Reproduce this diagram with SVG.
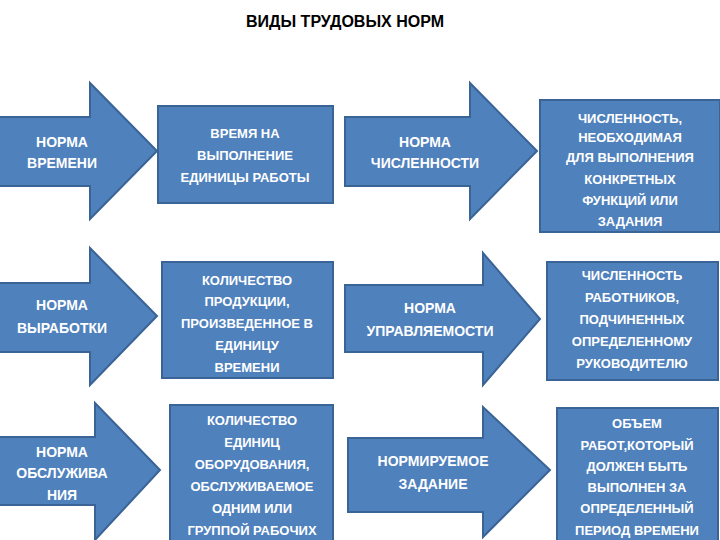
<svg xmlns="http://www.w3.org/2000/svg" width="720" height="540" viewBox="0 0 720 540">
<style>
.s{fill:#4f81bd;stroke:#3a6396;stroke-width:2}
.t{fill:#fff;font-family:"Liberation Sans",Arial,sans-serif;font-weight:bold;font-size:14px;text-anchor:middle}
.b{font-size:13px}
</style>
<rect width="720" height="540" fill="#fff"/>
<text x="345" y="27" style="font-family:'Liberation Sans',Arial,sans-serif;font-weight:bold;font-size:16px;text-anchor:middle">ВИДЫ ТРУДОВЫХ НОРМ</text>
<g id="a1"><path class="s" d="M-2,117H90V83L157,151L90,219V186H-2Z"/><text class="t" x="62" y="147">НОРМА</text><text class="t" x="62" y="168">ВРЕМЕНИ</text></g>
<g id="b1"><rect class="s" x="158" y="106" width="175" height="97"/><text class="t b" x="245" y="138">ВРЕМЯ НА</text><text class="t b" x="245" y="160">ВЫПОЛНЕНИЕ</text><text class="t b" x="245" y="182">ЕДИНИЦЫ РАБОТЫ</text></g>
<g id="a2"><path class="s" d="M345,117H470V83L537,151L470,219V186H345Z"/><text class="t" x="425" y="147">НОРМА</text><text class="t" x="425" y="168">ЧИСЛЕННОСТИ</text></g>
<g id="b2"><rect class="s" x="540" y="100" width="180" height="132"/><text class="t b" x="630" y="123">ЧИСЛЕННОСТЬ,</text><text class="t b" x="630" y="142">НЕОБХОДИМАЯ</text><text class="t b" x="630" y="162">ДЛЯ ВЫПОЛНЕНИЯ</text><text class="t b" x="630" y="184">КОНКРЕТНЫХ</text><text class="t b" x="630" y="205">ФУНКЦИЙ ИЛИ</text><text class="t b" x="630" y="226">ЗАДАНИЯ</text></g>
<g id="a3"><path class="s" d="M-2,283H90V248L157,316L90,385V352H-2Z"/><text class="t" x="62" y="310">НОРМА</text><text class="t" x="62" y="333">ВЫРАБОТКИ</text></g>
<g id="b3"><rect class="s" x="162" y="262" width="171" height="116"/><text class="t b" x="247" y="285">КОЛИЧЕСТВО</text><text class="t b" x="247" y="306">ПРОДУКЦИИ,</text><text class="t b" x="247" y="328">ПРОИЗВЕДЕННОЕ В</text><text class="t b" x="247" y="350">ЕДИНИЦУ</text><text class="t b" x="247" y="372">ВРЕМЕНИ</text></g>
<g id="a4"><path class="s" d="M345,285H483V253L540,319L483,385V352H345Z"/><text class="t" x="430" y="313">НОРМА</text><text class="t" x="430" y="336">УПРАВЛЯЕМОСТИ</text></g>
<g id="b4"><rect class="s" x="547" y="262" width="171" height="118"/><text class="t b" x="632" y="280">ЧИСЛЕННОСТЬ</text><text class="t b" x="632" y="302">РАБОТНИКОВ,</text><text class="t b" x="632" y="324">ПОДЧИНЕННЫХ</text><text class="t b" x="632" y="346">ОПРЕДЕЛЕННОМУ</text><text class="t b" x="632" y="368">РУКОВОДИТЕЛЮ</text></g>
<g id="a5"><path class="s" d="M-2,437H95V403L160,470L95,540V505H-2Z"/><text class="t" x="62" y="457">НОРМА</text><text class="t" x="62" y="478">ОБСЛУЖИВА</text><text class="t" x="62" y="500">НИЯ</text></g>
<g id="b5"><rect class="s" x="170" y="405" width="163" height="140"/><text class="t b" x="252" y="425">КОЛИЧЕСТВО</text><text class="t b" x="252" y="447">ЕДИНИЦ</text><text class="t b" x="252" y="469">ОБОРУДОВАНИЯ,</text><text class="t b" x="252" y="491">ОБСЛУЖИВАЕМОЕ</text><text class="t b" x="252" y="513">ОДНИМ ИЛИ</text><text class="t b" x="252" y="535">ГРУППОЙ РАБОЧИХ</text></g>
<g id="a6"><path class="s" d="M348,438H483V407L550,470L483,537V512H348Z"/><text class="t" x="433" y="466">НОРМИРУЕМОЕ</text><text class="t" x="433" y="489">ЗАДАНИЕ</text></g>
<g id="b6"><rect class="s" x="557" y="408" width="161" height="140"/><text class="t b" x="637" y="428">ОБЪЕМ</text><text class="t b" x="637" y="450">РАБОТ,КОТОРЫЙ</text><text class="t b" x="637" y="471">ДОЛЖЕН БЫТЬ</text><text class="t b" x="637" y="492">ВЫПОЛНЕН ЗА</text><text class="t b" x="637" y="513">ОПРЕДЕЛЕННЫЙ</text><text class="t b" x="637" y="535">ПЕРИОД ВРЕМЕНИ</text></g>
<g id="connectors"/>
</svg>
